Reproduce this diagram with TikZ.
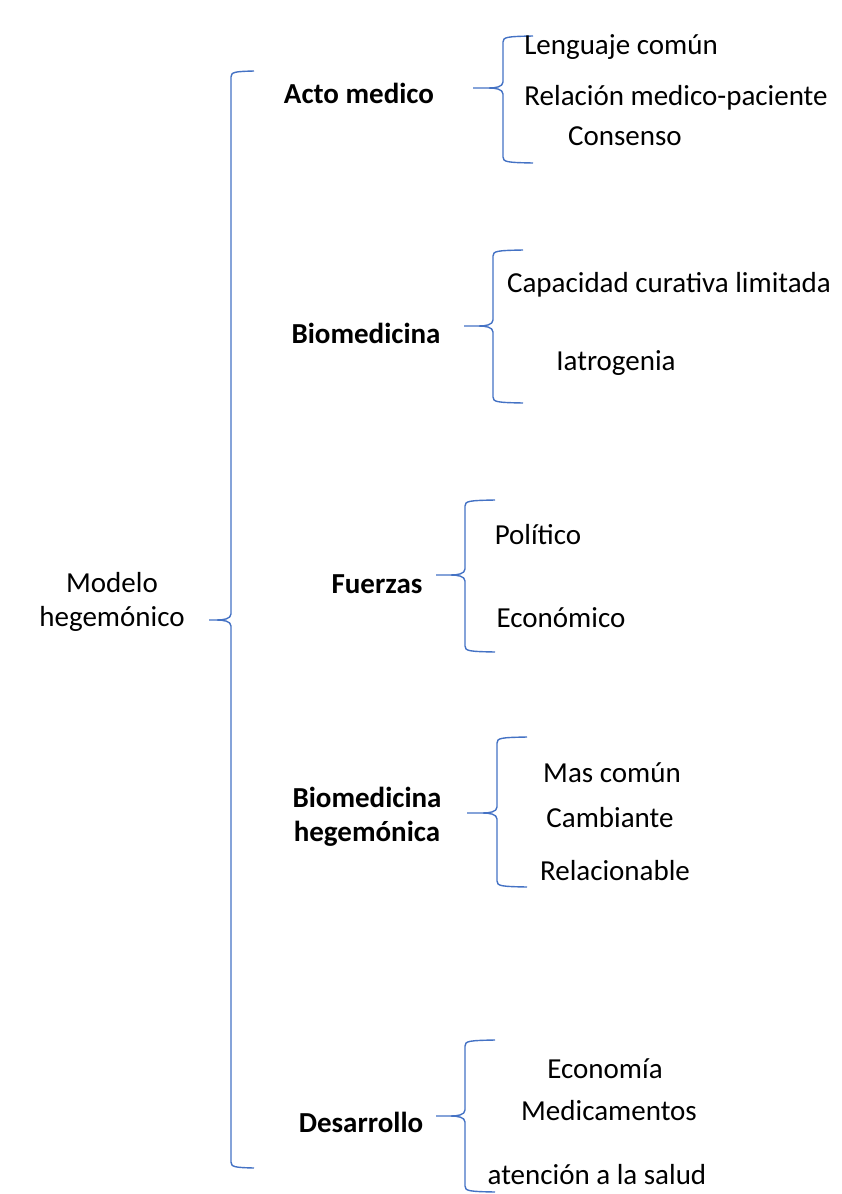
\documentclass[tikz,border=0pt]{standalone}
\usepackage{fontspec}
\setmainfont{Carlito}
\usepackage{tikz}
\definecolor{bracecol}{HTML}{4472C4}
\tikzset{
  item/.style={inner sep=0pt, font=\fontsize{29}{34}\selectfont},
  head/.style={item, font=\fontsize{29}{34}\selectfont\bfseries, align=center},
  brace/.style={draw=bracecol, line width=1.4pt}
}
% curly brace opening to the right: spine x, top, tip y, bottom, tip x, arm x
\newcommand\curly[6]{%
  \draw[brace] (#6,#2) .. controls (#1+4,#2+0.5) and (#1,#2+1) .. (#1,#2+6)
    -- (#1,#3-6) .. controls (#1,#3-1) and (#1-8,#3) .. (#1-14,#3) -- (#5,#3);
  \draw[brace] (#6,#4) .. controls (#1+4,#4-0.5) and (#1,#4-1) .. (#1,#4-6)
    -- (#1,#3+6) .. controls (#1,#3+1) and (#1-8,#3) .. (#1-14,#3);
}

\begin{document}
\begin{tikzpicture}[x=1pt, y=-1pt]
  \useasboundingbox (0,0) rectangle (841,1194);

  % root
  \node[item, align=center] (root) at (112,602) {Modelo\\hegemónico};
  \curly{231}{71}{620}{1168}{209}{254}

  % Acto medico
  \node[head] (acto) at (359,93) {Acto medico};
  \curly{503}{36}{88}{163}{473}{533}
  \node[item] (leng) at (621,47) {Lenguaje común};
  \node[item] (rel) at (676,98) {Relación medico-paciente};
  \node[item] (cons) at (625,136) {Consenso};

  % Biomedicina
  \node[head] (bio) at (366,333) {Biomedicina};
  \curly{493}{250}{326}{403}{464}{523}
  \node[item] (cap) at (669,285) {Capacidad curativa limitada};
  \node[item] (iat) at (616,363) {Iatrogenia};

  % Fuerzas
  \node[head] (fue) at (377,584) {Fuerzas};
  \curly{465}{500}{575}{652}{436}{495}
  \node[item] (pol) at (538,535) {Político};
  \node[item] (eco) at (561,618) {Económico};

  % Biomedicina hegemonica
  \node[head] (bioh) at (367,817) {Biomedicina\\hegemónica};
  \curly{497}{737}{813}{887}{467}{527}
  \node[item] (mas) at (612,773) {Mas común};
  \node[item] (cam) at (610,818) {Cambiante};
  \node[item] (relc) at (615,871) {Relacionable};

  % Desarrollo
  \node[head] (des) at (361,1122) {Desarrollo};
  \curly{465}{1040}{1116}{1192}{436}{495}
  \node[item] (econ) at (605,1069) {Economía};
  \node[item] (med) at (609,1111) {Medicamentos};
  \node[item] (ate) at (597,1175) {atención a la salud};
\end{tikzpicture}
\end{document}
